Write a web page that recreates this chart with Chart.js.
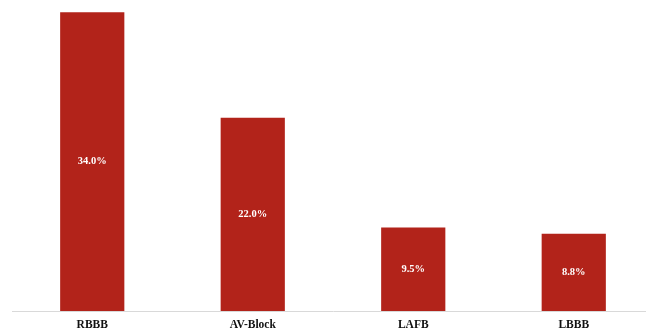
<!DOCTYPE html>
<html>
<head>
<meta charset="utf-8">
<script src="https://cdn.jsdelivr.net/npm/chart.js@4/dist/chart.umd.min.js"></script>
<style>
  html, body { margin: 0; padding: 0; background: #fff; overflow: hidden; }
  #wrap { width: 654px; height: 331px; }
</style>
</head>
<body>
<div id="wrap"><canvas id="chart" width="654" height="331"></canvas></div>
<script>
// conduction block types, share of patients (%)
const categories = ["RBBB", "AV-Block", "LAFB", "LBBB"];
const shares = [34.0, 22.0, 9.5, 8.8];

const BAR_COLOR = "#b2231a";
const SERIF = "'Liberation Serif', 'Times New Roman', serif";

// white percentage label centred in each bar
const barLabels = {
  id: "barLabels",
  afterDatasetsDraw(chart) {
    const ctx = chart.ctx;
    const meta = chart.getDatasetMeta(0);
    ctx.save();
    ctx.fillStyle = "#ffffff";
    ctx.font = "bold 10.5px " + SERIF;
    ctx.textAlign = "center";
    ctx.textBaseline = "middle";
    meta.data.forEach((bar, i) => {
      const p = bar.getCenterPoint();
      ctx.fillText(shares[i].toFixed(1) + "%", p.x, p.y);
    });
    ctx.restore();
  },
};

new Chart(document.getElementById("chart"), {
  type: "bar",
  data: {
    labels: categories,
    datasets: [{
      data: shares,
      backgroundColor: BAR_COLOR,
      borderWidth: 0,
      barPercentage: 0.4,
      categoryPercentage: 1.0,
    }],
  },
  options: {
    responsive: false,
    animation: false,
    layout: { padding: { left: 12, right: 0, top: 0, bottom: 0 } },
    plugins: { legend: { display: false }, tooltip: { enabled: false } },
    scales: {
      x: {
        grid: { display: false, drawTicks: false },
        border: { display: true, color: "#d9d9d9", width: 1 },
        ticks: {
          color: "#111",
          padding: 7,
          font: { family: SERIF, size: 11.5, weight: "bold" },
        },
        afterFit(scale) { scale.height = 20; },
      },
      y: {
        display: false,
        min: 0,
        max: 35.4,
      },
    },
  },
  plugins: [barLabels],
});
</script>
</body>
</html>
